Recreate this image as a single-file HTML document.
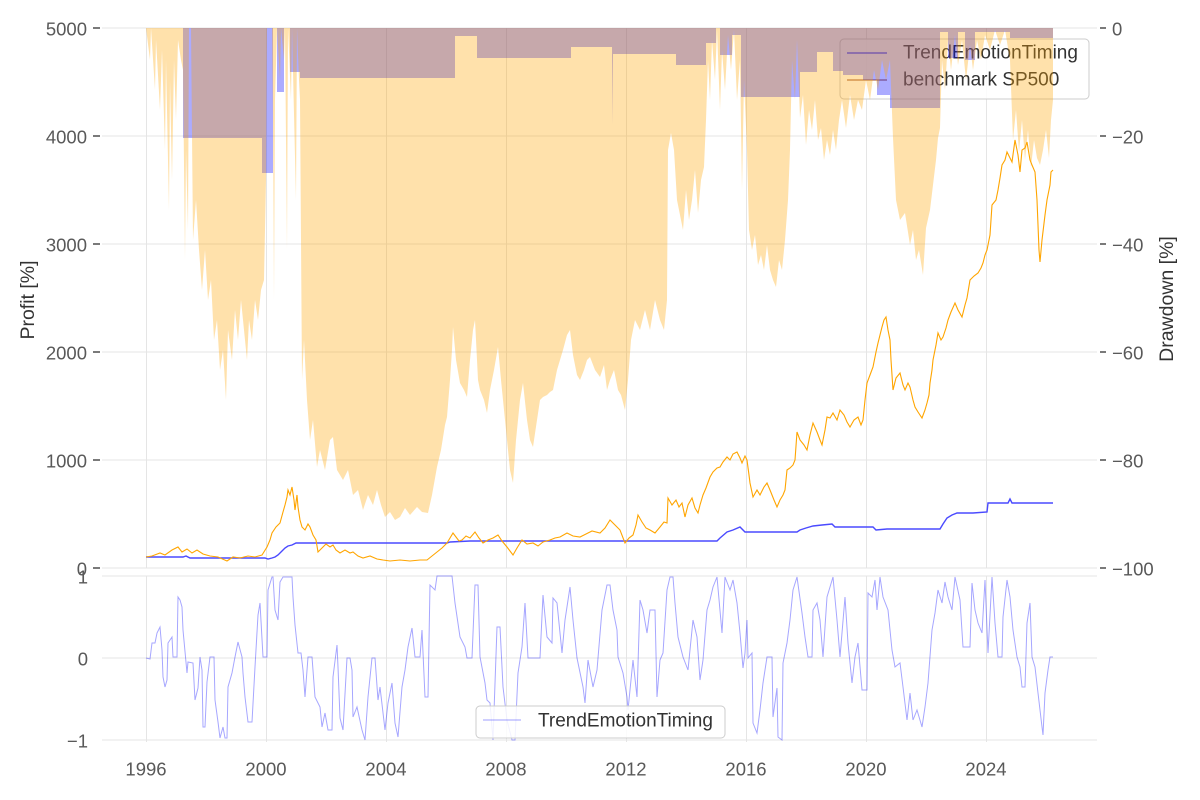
<!DOCTYPE html>
<html><head><meta charset="utf-8"><style>
html,body{margin:0;padding:0;background:#fff;}
svg{display:block;font-family:"Liberation Sans",Arial,sans-serif;}
</style></head><body>
<svg width="1200" height="800" viewBox="0 0 1200 800" xmlns="http://www.w3.org/2000/svg">
<rect width="1200" height="800" fill="#fff"/>
<!-- grid -->
<g stroke="#e5e5e5" stroke-width="1" fill="none">
<line x1="102" y1="28" x2="1097" y2="28"/><line x1="102" y1="136" x2="1097" y2="136"/><line x1="102" y1="244" x2="1097" y2="244"/><line x1="102" y1="352" x2="1097" y2="352"/><line x1="102" y1="460" x2="1097" y2="460"/><line x1="102" y1="568" x2="1097" y2="568"/>
<line x1="146.5" y1="28" x2="146.5" y2="568"/><line x1="266.5" y1="28" x2="266.5" y2="568"/><line x1="386.5" y1="28" x2="386.5" y2="568"/><line x1="506.5" y1="28" x2="506.5" y2="568"/><line x1="626.5" y1="28" x2="626.5" y2="568"/><line x1="746.5" y1="28" x2="746.5" y2="568"/><line x1="866.5" y1="28" x2="866.5" y2="568"/><line x1="986.5" y1="28" x2="986.5" y2="568"/>
<line x1="102" y1="576" x2="1097" y2="576"/><line x1="102" y1="658" x2="1097" y2="658"/><line x1="102" y1="740" x2="1097" y2="740"/>
<line x1="146.5" y1="576" x2="146.5" y2="742"/><line x1="266.5" y1="576" x2="266.5" y2="742"/><line x1="386.5" y1="576" x2="386.5" y2="742"/><line x1="506.5" y1="576" x2="506.5" y2="742"/><line x1="626.5" y1="576" x2="626.5" y2="742"/><line x1="746.5" y1="576" x2="746.5" y2="742"/><line x1="866.5" y1="576" x2="866.5" y2="742"/><line x1="986.5" y1="576" x2="986.5" y2="742"/>
</g>
<!-- strategy profit line -->
<polyline fill="none" stroke="#4a4aff" stroke-width="1.4" points="146,557 183,557 186,556 190,558 265,558 268,559 272,558 275,557 278,555 282,551 285,548 288,546 292,545 296,543 300,543 447,543 450,542 470,541 600,541 717,541 720,538 727,532 733,530 740,527 745,532 797,532 800,530 806,528 813,526 822,525 832,524 835,527 873,527 876,530 887,529 940,529 943,524 947,518 952,515 957,513 973,513 987,512 988,503 1008,503 1010,499 1012,503 1053,503"/>
<!-- benchmark profit line -->
<polyline fill="none" stroke="#ffa500" stroke-width="1.1" points="146,557 152,556 160,553 165,555 172,550 178,547 182,552 187,549 192,553 197,550 203,554 210,556 218,557 227,561 233,557 240,558 248,556 255,557 262,555 267,547 270,540 272,533 276,527 280,523 283,512 285,505 287,497 288,490 290,495 292,487 294,500 295,510 297,495 298,507 300,520 302,527 305,530 308,524 310,527 313,535 316,540 318,552 322,548 326,544 330,547 333,545 336,550 340,553 345,550 350,553 353,552 358,556 363,558 370,556 377,559 383,560 390,561 400,560 410,561 420,560 427,560 432,556 437,552 442,548 447,543 450,538 453,533 456,537 459,541 462,540 466,536 470,538 475,532 479,538 483,543 488,540 493,538 498,535 502,541 507,547 510,551 513,555 517,548 522,540 527,544 533,543 538,546 543,542 550,540 555,538 560,537 567,533 573,536 580,537 586,534 592,531 600,533 605,528 610,520 615,525 620,530 625,543 629,538 633,535 636,525 638,515 642,522 646,528 650,530 655,533 660,527 664,522 667,523 668,498 672,505 676,500 679,507 682,503 685,517 688,505 692,498 695,508 698,513 700,505 703,495 706,488 710,477 713,472 717,468 720,467 723,462 727,457 730,460 733,454 737,452 740,458 742,463 745,456 747,460 749,475 750,483 753,497 757,490 760,495 764,487 767,483 770,490 774,500 777,507 780,500 783,495 785,490 787,470 790,468 793,465 795,460 797,432 800,440 804,445 807,450 810,435 813,423 817,432 820,440 822,445 825,430 827,417 830,418 833,413 837,420 840,410 844,415 847,422 850,427 854,420 858,417 861,425 863,420 865,400 867,383 870,375 873,367 876,352 878,343 880,335 882,327 884,320 886,317 888,330 890,340 891,360 893,390 896,378 900,373 903,385 905,390 908,383 910,387 913,400 915,407 918,412 922,418 925,410 927,403 929,395 930,383 932,370 933,360 936,345 938,333 941,340 943,337 946,328 948,320 951,312 955,303 958,310 962,317 965,305 967,298 970,280 974,276 978,273 981,268 983,263 985,255 987,250 990,235 992,205 996,200 998,190 1000,178 1002,165 1005,160 1007,152 1010,158 1012,162 1015,140 1018,155 1020,172 1022,150 1025,148 1027,142 1030,160 1032,165 1035,172 1037,200 1039,250 1040,262 1042,240 1045,215 1047,200 1050,185 1051,172 1053,170"/>
<!-- top legend (under fills) -->
<rect x="840" y="39" width="249" height="60" rx="4" ry="4" fill="#fff" fill-opacity="0.85" stroke="#cccccc" stroke-width="1"/>
<line x1="847" y1="53" x2="887" y2="53" stroke="#0000ff" stroke-width="1"/>
<line x1="847" y1="80" x2="887" y2="80" stroke="#a0522d" stroke-width="1"/>
<text x="903" y="53" font-size="19" fill="#333" dominant-baseline="central">TrendEmotionTiming</text>
<text x="903" y="80" font-size="19" fill="#333" dominant-baseline="central">benchmark SP500</text>
<!-- strategy drawdown fill -->
<polygon fill="#0000ff" fill-opacity="0.33" points="146,28 183,28 183,138 262,138 262,173 273,173 273,28 277,28 277,92 284,92 284,28 290,28 290,72 300,72 300,78 455,78 455,36 477,36 477,58 571,58 571,47 612,47 612,125 613,54 676,54 676,65 706,65 706,43 716,43 716,28 720,28 720,55 732,55 732,35 741,35 741,97 800,97 800,72 817,72 817,52 833,52 833,71 843,71 843,75 863,75 863,80 877,80 877,95 890,95 890,108 940,108 940,32 948,32 948,58 958,58 958,32 965,32 965,60 975,60 975,32 1010,32 1010,38 1053,38 1053,28"/>
<!-- benchmark drawdown fill -->
<polygon fill="#ffa500" fill-opacity="0.33" points="146,28 150,60 151,28 155,90 156,40 160,110 162,50 165,150 166,60 169,210 170,80 172,180 174,60 176,120 178,40 181,60 183,70 185,260 186,150 188,230 189,28 191,28 193,240 196,200 199,250 202,290 205,250 208,300 211,280 214,340 217,320 220,370 223,350 226,400 228,330 232,360 235,310 238,340 241,300 244,330 247,360 249,320 252,340 255,300 258,320 261,290 264,280 266,180 267,28 272,28 273,120 274,300 275,100 277,28 280,80 281,28 284,60 285,28 287,250 288,28 291,100 292,28 296,200 297,28 299,80 300,100 302,380 304,340 307,400 310,440 313,420 317,467 320,450 325,470 330,440 333,437 337,470 343,480 348,470 353,495 358,490 363,510 368,495 373,505 377,490 381,505 385,517 390,512 395,520 400,517 405,508 410,515 417,507 422,512 428,513 432,495 437,467 441,450 445,425 447,417 450,380 452,350 453,327 456,360 460,383 464,390 467,397 470,360 473,330 475,320 478,380 480,390 484,400 487,413 490,390 494,370 498,347 501,380 503,400 507,440 510,470 513,483 516,440 520,400 523,383 527,420 530,440 533,447 537,420 540,400 543,397 547,395 550,392 553,390 557,370 560,360 563,350 567,335 570,330 573,355 577,375 580,380 584,370 587,360 590,357 595,370 600,377 604,365 607,390 610,380 614,370 618,390 621,395 625,410 628,380 631,340 635,320 640,330 645,310 650,330 655,300 660,320 664,330 667,300 668,150 671,133 674,150 677,200 680,215 683,230 686,190 689,220 692,200 695,170 698,213 701,180 704,167 706,120 708,60 710,100 712,40 715,80 717,30 720,110 722,50 725,90 728,35 731,70 734,30 737,100 740,60 742,190 744,80 747,150 749,230 752,250 755,235 758,265 761,255 764,270 767,245 770,270 773,280 776,287 779,260 782,270 785,240 788,200 790,150 792,60 795,100 797,40 800,118 803,95 806,145 809,110 812,130 815,100 818,140 821,128 824,160 827,140 830,155 833,130 836,150 839,120 842,100 846,128 850,95 854,120 858,100 862,110 866,80 870,100 874,70 878,90 882,60 886,80 890,60 893,138 896,200 900,220 905,213 910,245 913,230 916,260 919,250 923,275 926,228 930,210 933,185 936,160 938,138 940,128 942,60 945,90 948,40 951,70 955,35 958,65 962,40 966,80 970,45 973,70 977,40 981,60 985,35 990,50 995,30 1000,45 1005,30 1010,60 1013,140 1016,110 1019,152 1022,120 1025,160 1028,130 1031,167 1034,140 1037,158 1040,165 1043,150 1046,130 1049,158 1051,120 1053,100 1053,28"/>
<!-- signal line -->
<polyline fill="none" stroke="#0000ff" stroke-opacity="0.35" stroke-width="1" points="146,658 150,659 152,643 155,643 157,633 160,627 162,650 163,677 165,687 167,680 168,643 172,637 173,657 177,657 178,597 180,600 182,607 183,630 187,673 188,662 193,663 195,700 198,688 200,657 202,670 203,727 205,727 207,682 210,657 214,657 215,700 218,722 220,738 223,727 225,738 227,738 228,687 232,673 235,657 238,642 242,657 243,673 245,697 248,722 252,722 255,667 258,615 260,603 263,657 267,657 268,590 272,577 273,577 275,610 278,620 280,582 283,577 292,577 293,597 295,625 298,653 301,653 303,670 305,697 308,657 312,657 315,697 320,707 322,727 325,713 328,730 332,730 333,677 337,645 338,667 340,718 343,730 347,658 350,658 352,670 353,717 357,707 362,730 365,740 368,697 372,658 375,658 378,700 380,687 385,730 388,703 392,683 395,723 398,737 402,687 405,670 408,647 412,628 415,657 420,657 422,630 425,697 428,697 430,585 435,590 437,576 452,576 455,603 460,637 465,647 467,658 472,658 475,585 478,585 480,657 485,683 487,700 490,703 493,740 497,627 500,627 503,687 507,720 512,740 515,740 518,673 522,647 525,603 528,658 540,658 543,595 547,637 552,643 553,598 557,603 562,653 565,620 570,587 573,620 577,658 583,687 585,703 588,660 593,687 597,670 602,610 607,585 610,585 613,610 617,630 618,657 623,673 627,697 628,710 633,660 637,697 640,600 643,610 647,633 650,610 655,610 657,697 660,660 663,653 667,590 670,577 673,577 675,603 678,637 683,657 688,670 693,620 697,637 700,680 703,660 707,610 710,600 713,587 717,577 722,633 725,577 730,590 733,580 737,603 740,633 743,668 745,653 747,620 748,658 752,653 753,723 757,733 760,710 763,683 767,657 772,657 773,717 777,688 778,737 782,740 783,663 787,643 790,620 793,590 797,577 802,613 805,637 808,657 812,657 813,610 817,603 820,620 823,657 827,597 830,587 833,577 837,620 840,657 845,597 848,643 852,683 855,657 858,643 862,690 867,690 868,593 872,597 875,580 877,610 880,577 883,597 888,610 892,650 895,667 900,663 903,687 907,720 910,693 913,720 917,710 922,727 925,707 928,683 932,630 935,613 938,590 942,603 945,582 948,597 952,610 955,577 960,600 963,647 970,647 972,583 975,610 978,623 982,633 985,580 988,653 992,577 995,623 998,657 1002,657 1003,617 1007,580 1010,597 1013,630 1017,657 1020,667 1022,687 1025,687 1027,623 1030,603 1032,657 1035,667 1038,693 1042,727 1043,735 1045,693 1048,670 1050,657 1053,657"/>
<!-- bottom legend -->
<rect x="476" y="706" width="249" height="32" rx="4" ry="4" fill="#fff" fill-opacity="0.85" stroke="#cccccc" stroke-width="1"/>
<line x1="483" y1="720" x2="521" y2="720" stroke="#0000ff" stroke-opacity="0.3" stroke-width="1.2"/>
<text x="538" y="721" font-size="19" fill="#333" dominant-baseline="central">TrendEmotionTiming</text>
<!-- ticks -->
<g stroke="#222" stroke-width="1.2">
<line x1="93" y1="28" x2="100" y2="28"/><line x1="93" y1="136" x2="100" y2="136"/><line x1="93" y1="244" x2="100" y2="244"/><line x1="93" y1="352" x2="100" y2="352"/><line x1="93" y1="460" x2="100" y2="460"/><line x1="93" y1="568" x2="100" y2="568"/>
<line x1="1100" y1="28" x2="1106" y2="28"/><line x1="1100" y1="136" x2="1106" y2="136"/><line x1="1100" y1="244" x2="1106" y2="244"/><line x1="1100" y1="352" x2="1106" y2="352"/><line x1="1100" y1="460" x2="1106" y2="460"/><line x1="1100" y1="568" x2="1106" y2="568"/>
</g>
<g font-size="18.5" fill="#595959" dominant-baseline="central">
<g text-anchor="end">
<text x="87" y="29">5000</text><text x="87" y="137">4000</text><text x="87" y="245">3000</text><text x="87" y="353">2000</text><text x="87" y="461">1000</text><text x="87" y="569">0</text>
<text x="88" y="577">1</text><text x="88" y="659">0</text><text x="88" y="741">−1</text>
</g>
<g text-anchor="start">
<text x="1112" y="29">0</text><text x="1112" y="137">−20</text><text x="1112" y="245">−40</text><text x="1112" y="353">−60</text><text x="1112" y="461">−80</text><text x="1112" y="569">−100</text>
</g>
<g text-anchor="middle">
<text x="146" y="769">1996</text><text x="266" y="769">2000</text><text x="386" y="769">2004</text><text x="506" y="769">2008</text><text x="626" y="769">2012</text><text x="746" y="769">2016</text><text x="866" y="769">2020</text><text x="986" y="769">2024</text>
</g>
</g>
<text transform="translate(28,300) rotate(-90)" text-anchor="middle" dominant-baseline="central" font-size="19.5" fill="#333">Profit [%]</text>
<text transform="translate(1167,299) rotate(-90)" text-anchor="middle" dominant-baseline="central" font-size="19.5" fill="#333">Drawdown [%]</text>
</svg>
</body></html>
